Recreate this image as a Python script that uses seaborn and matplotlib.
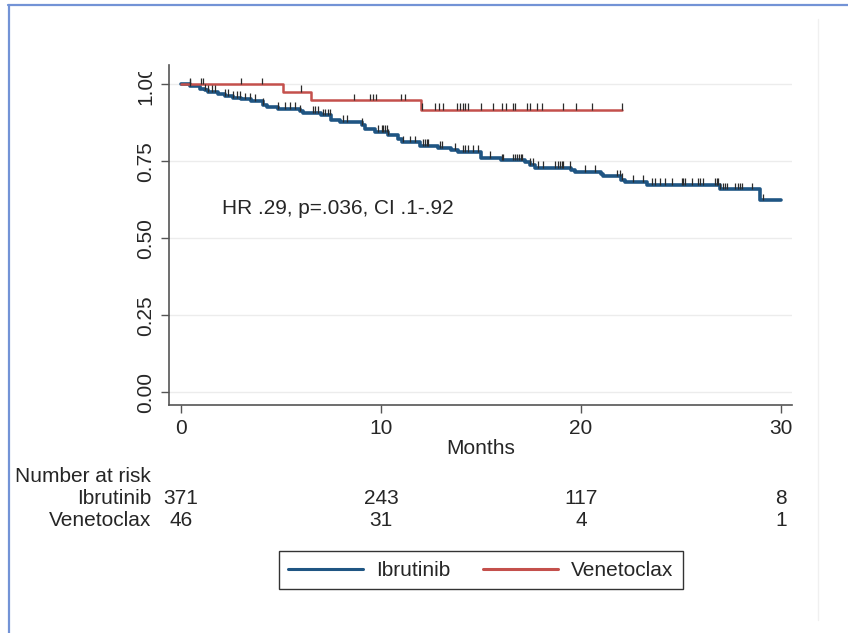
import numpy as np
import pandas as pd
import matplotlib
matplotlib.use("Agg")
import matplotlib.pyplot as plt
import matplotlib.transforms as mtransforms
from matplotlib.lines import Line2D
from matplotlib.patches import Rectangle
import seaborn as sns

# Kaplan-Meier steps (time in months, survival after the step)
ibr_times = [0, 0.45, 0.95, 1.2, 1.35, 1.85, 2.2, 2.6, 3.0, 3.5, 4.1, 4.3, 4.85, 5.95, 6.1,
             7.0, 7.5, 7.95, 9.05, 9.2, 9.7, 10.35, 10.85, 11.05, 11.95, 12.85, 13.5, 13.85,
             15.0, 16.0, 17.2, 17.45, 17.7, 19.5, 19.7, 21.0, 21.1, 22.0, 22.2, 23.3, 26.95,
             28.95, 30.0]
ibr_surv = [1.0, 0.995, 0.986, 0.98, 0.975, 0.97, 0.962, 0.955, 0.951, 0.945, 0.934, 0.926,
            0.921, 0.912, 0.908, 0.899, 0.885, 0.878, 0.867, 0.856, 0.845, 0.834, 0.823, 0.811,
            0.80, 0.793, 0.786, 0.780, 0.762, 0.753, 0.748, 0.737, 0.729, 0.723, 0.715, 0.710,
            0.701, 0.690, 0.683, 0.674, 0.659, 0.623, 0.623]
ven_times = [0, 5.08, 6.5, 12.0, 22.05]
ven_surv = [1.0, 0.975, 0.948, 0.918, 0.918]

# censoring marks
ibr_censor = [0.45, 1.2, 1.35, 1.55, 1.7, 2.2, 2.35, 2.6, 2.8, 2.95, 3.2, 3.45, 3.7, 4.1,
              4.85, 5.2, 5.45, 5.7, 5.95, 6.6, 6.7, 6.85, 7.1, 7.2, 7.35, 7.45, 8.1, 8.3, 9.05,
              9.85, 10.05, 10.1, 10.2, 10.3, 10.35, 11.1, 11.45, 11.7, 12.1, 12.2, 12.3, 12.35,
              12.95, 13.05, 13.7, 14.1, 14.2, 14.35, 14.6, 14.85, 15.45, 16.05, 16.1, 16.6, 16.7,
              16.8, 16.9, 17.0, 17.05, 17.45, 17.6, 17.85, 18.1, 18.7, 18.85, 18.95, 19.05, 19.1,
              19.45, 20.2, 20.7, 21.8, 21.95, 22.05, 22.6, 23.1, 23.55, 23.7, 23.95, 24.2, 24.55,
              25.05, 25.1, 25.2, 25.55, 25.85, 25.95, 26.1, 26.7, 26.8, 26.85, 26.95, 27.1, 27.2,
              27.3, 27.7, 27.85, 27.95, 28.05, 28.55, 29.1]
ven_censor = [0.45, 1.0, 1.1, 3.0, 4.05, 6.0, 8.65, 9.45, 9.6, 9.75, 11.0, 11.2, 12.05, 12.7,
              12.9, 13.1, 13.8, 13.95, 14.1, 14.2, 14.35, 15.0, 15.6, 16.05, 16.25, 16.6, 16.7,
              17.3, 17.45, 17.8, 18.05, 19.1, 19.75, 20.55, 22.05]

groups = ["Ibrutinib", "Venetoclax"]
risk_times = [0, 10, 20, 30]
risk_ibr = [371, 243, 117, 8]
risk_ven = [46, 31, 4, 1]
colors = {"Ibrutinib": "#1f5583", "Venetoclax": "#c4504c"}

df = pd.concat([
    pd.DataFrame({"time": ibr_times, "surv": ibr_surv, "group": "Ibrutinib"}),
    pd.DataFrame({"time": ven_times, "surv": ven_surv, "group": "Venetoclax"}),
])

sns.set_style("white")
plt.rcParams["font.family"] = ["Liberation Sans", "DejaVu Sans"]

fig = plt.figure(figsize=(8.48, 6.33), dpi=100)
ax = fig.add_axes([0.1993, 0.360, 0.7347, 0.537])

for g in groups:
    sub = df[df["group"] == g]
    sns.lineplot(data=sub, x="time", y="surv", ax=ax, color=colors[g],
                 drawstyle="steps-post", estimator=None, sort=False,
                 linewidth=2.6 if g == "Ibrutinib" else 1.8, legend=False, zorder=3)

# censor ticks
for times, surv, cens in [(ibr_times, ibr_surv, ibr_censor), (ven_times, ven_surv, ven_censor)]:
    idx = np.searchsorted(times, cens, side="right") - 1
    lvl = np.array(surv)[idx]
    ax.vlines(cens, lvl, lvl + 0.022, color="#2b2b2b", linewidth=0.9, zorder=4)

ax.set_xlim(-0.6, 30.55)
ax.set_ylim(-0.042, 1.062)
ax.set_xticks([0, 10, 20, 30])
ax.set_yticks([0, 0.25, 0.5, 0.75, 1.0])
ax.set_yticklabels(["0.00", "0.25", "0.50", "0.75", "1.00"], rotation=90, va="center")
ax.tick_params(axis="both", labelsize=15, length=6, width=1, color="#555555",
               direction="out", left=True, bottom=True, pad=4)
ax.grid(axis="y", color="#ececec", linewidth=1)
ax.set_xlabel("Months", fontsize=15, labelpad=1)
ax.set_ylabel("")
for s in ["top", "right"]:
    ax.spines[s].set_visible(False)
for s in ["left", "bottom"]:
    ax.spines[s].set_color("#555555")
    ax.spines[s].set_linewidth(1.2)

ax.text(2.05, 0.597, "HR .29, p=.036, CI .1-.92", fontsize=15, va="center", ha="left")

# number at risk table
tr = mtransforms.blended_transform_factory(ax.transData, fig.transFigure)
fig.text(15 / 848, 1 - 476 / 633, "Number at risk", fontsize=15, va="center", ha="left")
for row_y, name, vals in [(498, "Ibrutinib", risk_ibr), (521, "Venetoclax", risk_ven)]:
    fig.text(151 / 848, 1 - row_y / 633, name, fontsize=15, va="center", ha="right")
    for t, v in zip(risk_times, vals):
        ax.text(t, 1 - row_y / 633, str(v), transform=tr, fontsize=15,
                va="center", ha="center", clip_on=False)

handles = [Line2D([0], [0], color=colors[g], linewidth=2.2) for g in groups]
leg = fig.legend(handles, groups, loc="upper center", bbox_to_anchor=(0.567, 1 - 541 / 633),
                 ncol=2, fontsize=15, frameon=True, fancybox=False, handlelength=3.6,
                 handletextpad=0.6, columnspacing=1.6, borderpad=0.45)
leg.get_frame().set_edgecolor("black")
leg.get_frame().set_linewidth(1.0)

# top of the screenshot cuts into the top tick label
fig.patches.append(Rectangle((110 / 848, 1 - 72 / 633), 55 / 848, 62 / 633,
                             transform=fig.transFigure, facecolor="white", edgecolor="none",
                             zorder=10))
# frame lines of the screenshot
fig.add_artist(Line2D([8 / 848, 1], [1 - 5 / 633, 1 - 5 / 633], transform=fig.transFigure,
                      color="#7393d6", linewidth=1.6))
fig.add_artist(Line2D([9 / 848, 9 / 848], [0, 1 - 5 / 633], transform=fig.transFigure,
                      color="#7393d6", linewidth=1.6))
fig.add_artist(Line2D([818 / 848, 818 / 848], [0.02, 0.97], transform=fig.transFigure,
                      color="#f0f0f0", linewidth=1))

fig.savefig("out.png", dpi=100)
